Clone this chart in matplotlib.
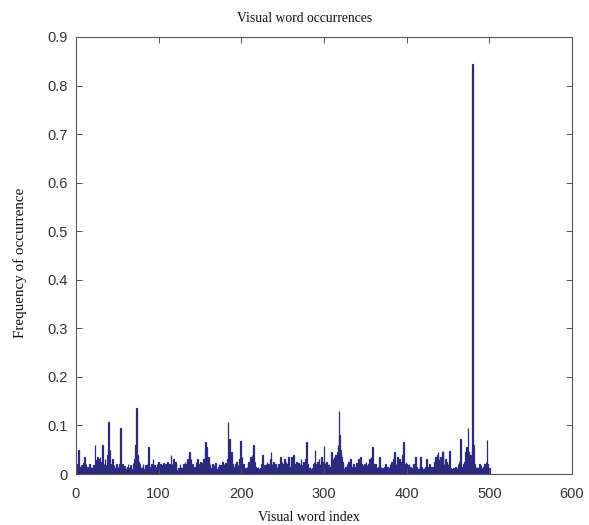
import numpy as np
import matplotlib
matplotlib.use("Agg")
import matplotlib.pyplot as plt

title = "Visual word occurrences"
xlabel = "Visual word index"
ylabel = "Frequency of occurrence"
xticks = [0, 100, 200, 300, 400, 500, 600]
yticks = [0, 0.1, 0.2, 0.3, 0.4, 0.5, 0.6, 0.7, 0.8, 0.9]

freq_000 = [0.01, 0.02, 0.049, 0.015, 0.008, 0.012, 0.018, 0.01, 0.022, 0.035,
            0.012, 0.02, 0.008, 0.015, 0.006, 0.02, 0.01, 0.014, 0.005, 0.012,
            0.018, 0.01, 0.059, 0.02, 0.028, 0.035, 0.03, 0.022, 0.035, 0.018,
            0.025, 0.06, 0.015, 0.02, 0.03, 0.012, 0.018, 0.04, 0.107, 0.025,
            0.05, 0.02, 0.012, 0.03, 0.01, 0.018, 0.006, 0.012, 0.02, 0.008]
freq_050 = [0.015, 0.01, 0.02, 0.094, 0.015, 0.02, 0.008, 0.012, 0.016, 0.005,
            0.01, 0.014, 0.02, 0.008, 0.012, 0.018, 0.006, 0.01, 0.022, 0.015,
            0.03, 0.06, 0.135, 0.04, 0.035, 0.025, 0.02, 0.012, 0.008, 0.015,
            0.02, 0.01, 0.006, 0.018, 0.012, 0.02, 0.025, 0.056, 0.015, 0.01,
            0.02, 0.008, 0.03, 0.012, 0.018, 0.006, 0.015, 0.02, 0.01, 0.025]
freq_100 = [0.015, 0.02, 0.008, 0.012, 0.018, 0.022, 0.015, 0.02, 0.012, 0.02,
            0.025, 0.015, 0.02, 0.018, 0.04, 0.02, 0.015, 0.03, 0.012, 0.025,
            0.02, 0.008, 0.006, 0.012, 0.01, 0.02, 0.015, 0.008, 0.012, 0.02,
            0.01, 0.025, 0.015, 0.02, 0.03, 0.02, 0.045, 0.018, 0.03, 0.012,
            0.02, 0.008, 0.015, 0.01, 0.025, 0.018, 0.03, 0.012, 0.02, 0.015]
freq_150 = [0.025, 0.018, 0.022, 0.03, 0.015, 0.05, 0.065, 0.055, 0.02, 0.035,
            0.015, 0.02, 0.008, 0.012, 0.02, 0.01, 0.018, 0.015, 0.022, 0.01,
            0.008, 0.015, 0.02, 0.012, 0.018, 0.01, 0.025, 0.015, 0.02, 0.012,
            0.022, 0.015, 0.03, 0.107, 0.04, 0.073, 0.035, 0.045, 0.02, 0.012,
            0.008, 0.015, 0.02, 0.025, 0.012, 0.018, 0.02, 0.03, 0.068, 0.02]
freq_200 = [0.035, 0.015, 0.02, 0.01, 0.012, 0.008, 0.015, 0.02, 0.025, 0.012,
            0.035, 0.018, 0.04, 0.02, 0.06, 0.025, 0.015, 0.012, 0.008, 0.015,
            0.01, 0.006, 0.012, 0.02, 0.015, 0.04, 0.012, 0.018, 0.01, 0.02,
            0.025, 0.015, 0.02, 0.018, 0.03, 0.045, 0.02, 0.015, 0.025, 0.012,
            0.02, 0.01, 0.015, 0.008, 0.02, 0.012, 0.035, 0.018, 0.025, 0.015]
freq_250 = [0.02, 0.03, 0.018, 0.025, 0.012, 0.02, 0.035, 0.015, 0.01, 0.022,
            0.035, 0.015, 0.04, 0.02, 0.012, 0.018, 0.025, 0.015, 0.022, 0.01,
            0.02, 0.03, 0.018, 0.012, 0.025, 0.02, 0.015, 0.03, 0.065, 0.02,
            0.012, 0.008, 0.015, 0.01, 0.006, 0.012, 0.02, 0.025, 0.05, 0.02,
            0.015, 0.025, 0.018, 0.03, 0.02, 0.015, 0.035, 0.02, 0.025, 0.058]
freq_300 = [0.02, 0.015, 0.025, 0.018, 0.012, 0.02, 0.01, 0.015, 0.045, 0.02,
            0.03, 0.035, 0.025, 0.04, 0.03, 0.045, 0.06, 0.13, 0.08, 0.05,
            0.035, 0.025, 0.02, 0.012, 0.008, 0.015, 0.01, 0.02, 0.015, 0.025,
            0.02, 0.03, 0.015, 0.01, 0.008, 0.02, 0.01, 0.015, 0.022, 0.012,
            0.02, 0.03, 0.015, 0.035, 0.02, 0.012, 0.018, 0.01, 0.02, 0.015]
freq_350 = [0.025, 0.018, 0.012, 0.02, 0.03, 0.015, 0.035, 0.025, 0.056, 0.02,
            0.015, 0.02, 0.01, 0.008, 0.012, 0.015, 0.035, 0.01, 0.015, 0.008,
            0.012, 0.01, 0.015, 0.02, 0.012, 0.008, 0.015, 0.01, 0.012, 0.02,
            0.015, 0.025, 0.018, 0.03, 0.045, 0.015, 0.02, 0.018, 0.035, 0.025,
            0.03, 0.015, 0.02, 0.025, 0.04, 0.065, 0.02, 0.015, 0.025, 0.02]
freq_400 = [0.018, 0.012, 0.02, 0.01, 0.015, 0.008, 0.012, 0.02, 0.015, 0.018,
            0.035, 0.015, 0.01, 0.008, 0.012, 0.02, 0.035, 0.015, 0.01, 0.008,
            0.012, 0.01, 0.015, 0.03, 0.015, 0.012, 0.008, 0.02, 0.015, 0.01,
            0.015, 0.012, 0.02, 0.025, 0.035, 0.02, 0.04, 0.045, 0.03, 0.025,
            0.035, 0.02, 0.045, 0.048, 0.02, 0.015, 0.03, 0.025, 0.015, 0.02]
freq_450 = [0.015, 0.048, 0.012, 0.01, 0.008, 0.01, 0.012, 0.008, 0.015, 0.01,
            0.012, 0.02, 0.015, 0.025, 0.073, 0.015, 0.01, 0.012, 0.02, 0.025,
            0.045, 0.055, 0.05, 0.094, 0.045, 0.035, 0.04, 0.03, 0.05, 0.845,
            0.06, 0.02, 0.012, 0.008, 0.015, 0.01, 0.012, 0.02, 0.015, 0.018,
            0.012, 0.01, 0.015, 0.02, 0.012, 0.025, 0.07, 0.02, 0.01, 0.012]

freq = np.array(freq_000 + freq_050 + freq_100 + freq_150 + freq_200 +
                freq_250 + freq_300 + freq_350 + freq_400 + freq_450)
word_index = np.arange(1, len(freq) + 1)

fig = plt.figure(figsize=(5.89, 5.25), dpi=100)
ax = fig.add_axes([76 / 589, 1 - 474 / 525, (572 - 76) / 589, (474 - 37) / 525])

bar_color = "#2b2a80"
ax.bar(word_index, freq, width=0.8, color=bar_color, edgecolor=bar_color,
       linewidth=0.9)

ax.set_xlim(0, 600)
ax.set_ylim(0, 0.9)
ax.set_xticks(xticks)
ax.set_yticks(yticks)
ax.set_xticklabels([str(t) for t in xticks])
ax.set_yticklabels(["0" if t == 0 else f"{t:.1f}" for t in yticks])

for s in ax.spines.values():
    s.set_color("#555555")
    s.set_linewidth(0.8)
ax.tick_params(direction="in", top=True, right=True, length=4, width=0.7,
               color="#555555", labelsize=10.5, labelcolor="#333333")
ax.tick_params(axis="x", pad=9)
ax.tick_params(axis="y", pad=6)
for lab in ax.get_xticklabels() + ax.get_yticklabels():
    lab.set_family("Liberation Sans")

ax.set_title(title, family="Liberation Serif", fontsize=9.8, pad=11,
             color="#111111", x=0.46)
ax.set_xlabel(xlabel, family="Liberation Serif", fontsize=10, labelpad=7,
              color="#111111")
ax.xaxis.set_label_coords(0.47, -0.085)
ax.set_ylabel(ylabel, family="Liberation Serif", fontsize=10.8, color="#111111")
ax.yaxis.set_label_coords(-0.098, 0.483)

fig.savefig("out.png", dpi=100)
